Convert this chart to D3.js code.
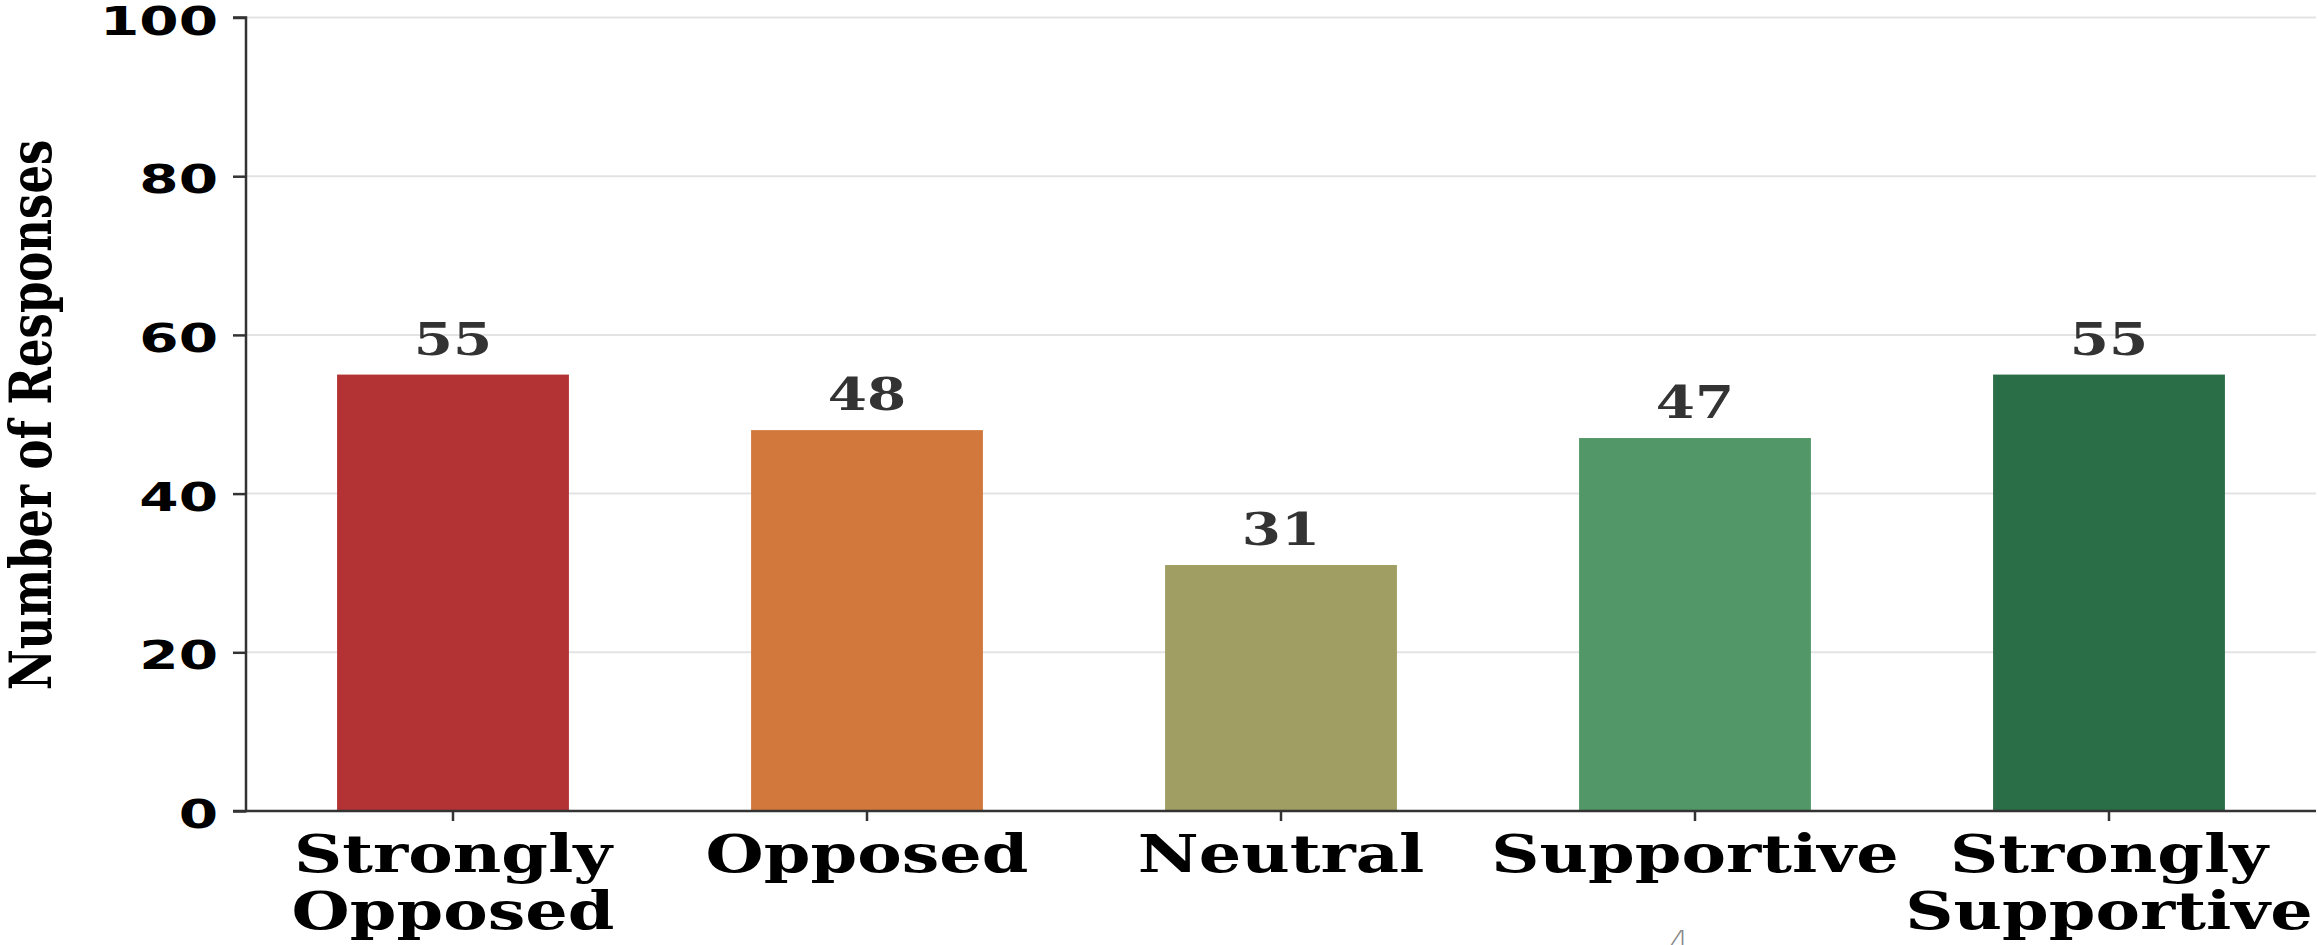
<!DOCTYPE html>
<html>
<head>
<meta charset="utf-8">
<script src="https://cdn.jsdelivr.net/npm/d3@7"></script>
<style>
  html, body { margin: 0; padding: 0; background: #fff; }
  svg { display: block; }
</style>
</head>
<body>
<svg id="chart" width="2318" height="945"></svg>
<script>
const categories = ["Strongly Opposed", "Opposed", "Neutral", "Supportive", "Strongly Supportive"];
const labelLines = [["Strongly", "Opposed"], ["Opposed"], ["Neutral"], ["Supportive"], ["Strongly", "Supportive"]];
const values = [55, 48, 31, 47, 55];
const colors = ["#B33234", "#D2783C", "#A09E62", "#529768", "#2A6E48"];
const yTicks = [0, 20, 40, 60, 80, 100];
const yTitle = "Number of Responses";
const pageNote = "4";

(function () {
const mLeft = 246, mRight = 2316, mTop = 17.5, mBottom = 811;

const svg = d3.select("#chart");

const x = d3.scaleBand().domain(categories).range([mLeft, mRight]).paddingInner(0).paddingOuter(0);
const barFrac = 0.56;
const y = d3.scaleLinear().domain([0, 100]).range([mBottom, mTop]);

// grid
svg.append("g").selectAll("line").data(yTicks.filter(d => d > 0)).join("line")
  .attr("x1", mLeft).attr("x2", mRight)
  .attr("y1", d => y(d)).attr("y2", d => y(d))
  .attr("stroke", "#e3e3e3").attr("stroke-width", 2);

// bars
svg.append("g").selectAll("rect").data(values).join("rect")
  .attr("x", (d, i) => x(categories[i]) + x.bandwidth() * (1 - barFrac) / 2)
  .attr("width", x.bandwidth() * barFrac)
  .attr("y", d => y(d))
  .attr("height", d => y(0) - y(d))
  .attr("fill", (d, i) => colors[i]);

// value labels
const vs = 1.28;
svg.append("g").selectAll("text").data(values).join("text")
  .attr("transform", (d, i) => `translate(${x(categories[i]) + x.bandwidth() / 2},${y(d) - 20}) scale(${vs},1)`)
  .attr("text-anchor", "middle")
  .attr("font-family", "DejaVu Serif")
  .attr("font-weight", "bold")
  .attr("font-size", 44)
  .attr("fill", "#333333")
  .text(d => d);

// y axis
const yAxis = d3.axisLeft(y).tickValues(yTicks).tickSize(13).tickPadding(0).tickFormat(d => d);
const gy = svg.append("g").attr("transform", `translate(${mLeft},0)`).call(yAxis);
gy.select(".domain").attr("stroke", "#333").attr("stroke-width", 2.5).attr("d", `M-13,${mTop}H0V${mBottom}H-13`);
gy.selectAll(".tick line").attr("stroke", "#333").attr("stroke-width", 2.5);
const ts = 1.45;
gy.selectAll(".tick text")
  .attr("x", null).attr("dy", null)
  .attr("text-anchor", "end")
  .attr("dominant-baseline", "central")
  .attr("transform", `translate(-28,3) scale(${ts},1)`)
  .attr("font-family", "DejaVu Sans")
  .attr("font-weight", "bold")
  .attr("font-size", 39)
  .attr("fill", "#000");

// x axis
const xAxis = d3.axisBottom(x).tickSize(10).tickFormat("");
const gx = svg.append("g").attr("transform", `translate(0,${mBottom})`).call(xAxis);
gx.select(".domain").attr("stroke", "#333").attr("stroke-width", 2.5).attr("d", `M${mLeft},0H${mRight}`);
gx.selectAll(".tick line").attr("stroke", "#333").attr("stroke-width", 2.5);

const xs = 1.26;
const xl = svg.append("g").selectAll("text").data(categories).join("text")
  .attr("transform", (d, i) => `translate(${x(d) + x.bandwidth() / 2},872) scale(${xs},1)`)
  .attr("text-anchor", "middle")
  .attr("font-family", "DejaVu Serif")
  .attr("font-weight", "bold")
  .attr("font-size", 53)
  .attr("fill", "#000");
xl.each(function(d, i) {
  const t = d3.select(this);
  labelLines[i].forEach((ln, k) => {
    t.append("tspan").attr("x", 0).attr("y", k * 57).text(ln);
  });
});

// y title
svg.append("text")
  .attr("transform", `translate(51,415) scale(1.3,1) rotate(-90)`)
  .attr("text-anchor", "middle")
  .attr("font-family", "DejaVu Serif")
  .attr("font-weight", "bold")
  .attr("font-size", 45)
  .attr("fill", "#000")
  .text(yTitle);

// page note
svg.append("text")
  .attr("x", 1679).attr("y", 952)
  .attr("text-anchor", "middle")
  .attr("font-family", "DejaVu Sans")
  .attr("font-weight", 200)
  .attr("font-size", 31)
  .attr("fill", "#888")
  .text(pageNote);
})();
</script>
</body>
</html>
